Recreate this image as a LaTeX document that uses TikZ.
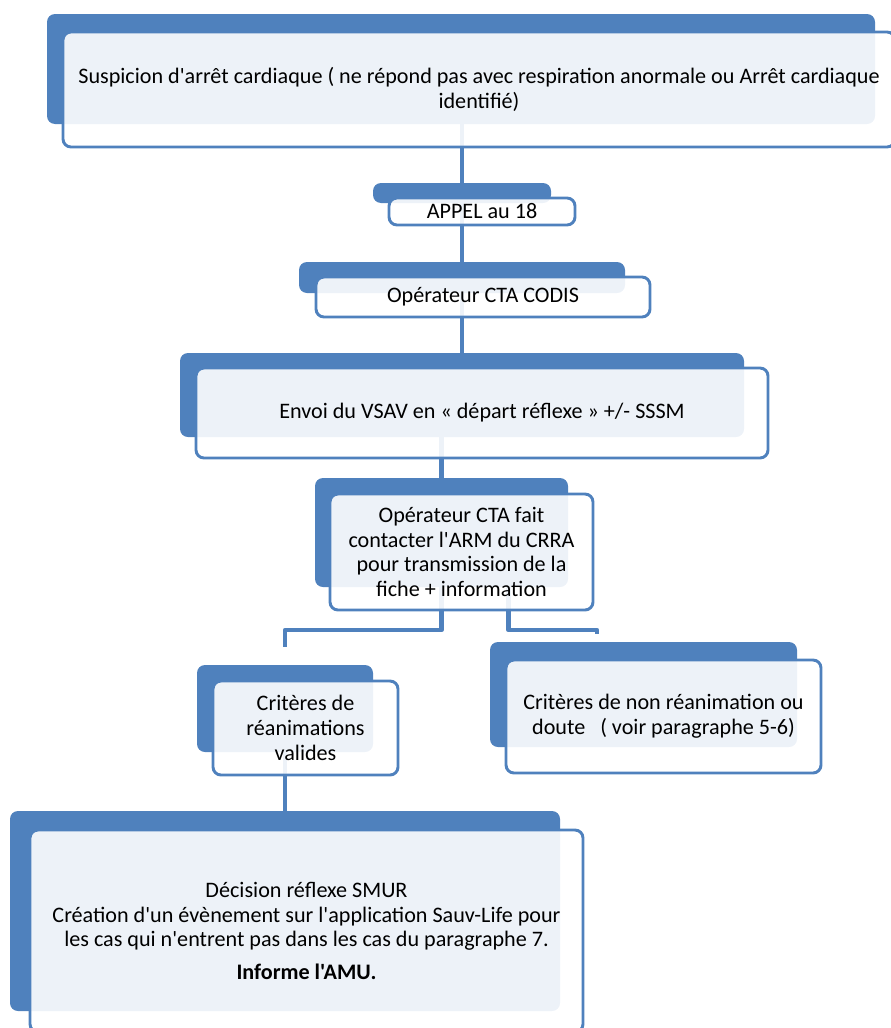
\documentclass[tikz,border=0pt]{standalone}
\usepackage{fontspec}
\setmainfont{Carlito}[Ligatures=TeXOff]
\usepackage{tikz}
\usetikzlibrary{positioning,backgrounds}
\definecolor{ofblue}{HTML}{4F81BD}
\tikzset{
    x=0.75pt,
    y=-0.75pt,
    shade/.style = {
        fill=ofblue,
        shape=rectangle,
        rounded corners=6pt,
        inner sep=0pt
    },
    block/.style = {
        draw=ofblue,
        fill=white,
        fill opacity=0.9,
        text opacity=1,
        shape=rectangle,
        rounded corners=6pt,
        line width=2.2pt,
        inner sep=0pt,
        align=center,
        font=\fontsize{16.6}{18.6}\selectfont
    },
    link/.style = {
        draw=ofblue,
        line width=3.4pt,
        line join=round
    },
}

\begin{document}
\begin{tikzpicture}
    \useasboundingbox (0,0) rectangle (890,1028);

    % dark boxes behind
    \node[shade, minimum width=621pt, minimum height=82.5pt] (susbk) at (461,69) {};
    \node[shade, minimum width=133.5pt, minimum height=15pt] (appelbk) at (462,193) {};
    \node[shade, minimum width=244.5pt, minimum height=23.25pt] (codisbk) at (462,277.5) {};
    \node[shade, minimum width=423pt, minimum height=63pt] (vsavbk) at (462,395) {};
    \node[shade, minimum width=189.75pt, minimum height=81.75pt] (ctabk) at (441.5,532.5) {};
    \node[shade, minimum width=132pt, minimum height=65.25pt] (reabk) at (285,708.5) {};
    \node[shade, minimum width=230.25pt, minimum height=78.75pt] (nonreabk) at (643.5,694.5) {};
    \node[shade, minimum width=412.5pt, minimum height=150pt] (smurbk) at (285,911) {};

    % boxes with text
    \node[block, minimum width=624pt, minimum height=86.25pt] (sus) at (479,89.5)
        {Suspicion d'arrêt cardiaque ( ne répond pas avec respiration anormale ou Arrêt cardiaque\\identifié)};
    \node[block, minimum width=139.5pt, minimum height=20.25pt] (appel) at (482,211.5) {APPEL au 18};
    \node[block, minimum width=250.5pt, minimum height=30pt] (codis) at (483,297) {Opérateur CTA CODIS};
    \node[block, minimum width=429pt, minimum height=67.5pt] (vsav) at (482,413)
        {Envoi du VSAV en « départ réflexe » +/- SSSM};
    \node[block, minimum width=197.25pt, minimum height=87pt] (cta) at (461.5,552)
        {Opérateur CTA fait\\contacter l'ARM du CRRA\\pour transmission de la\\fiche + information};
    \node[block, minimum width=138.75pt, minimum height=70.5pt] (rea) at (305.5,728)
        {Critères de\\réanimations\\valides};
    \node[block, minimum width=236.25pt, minimum height=84.75pt] (nonrea) at (663.5,716.5)
        {Critères de non réanimation ou\\doute\ \ \ ( voir paragraphe 5-6)};
    \node[block, minimum width=414.75pt, minimum height=151.5pt] (smur) at (306.5,931)
        {Décision réflexe SMUR\\Création d'un évènement sur l'application Sauv-Life pour\\les cas qui n'entrent pas dans les cas du paragraphe 7.\\[6pt]\textbf{Informe l'AMU.}};

    \coordinate (jl) at (285,630);
    \coordinate (jr) at (597,630);

    %connect
    \begin{scope}[on background layer]
        \path[link] (appelbk.north) -- (appelbk.north |- susbk.south);
        \path[link] (codisbk.north) -- (codisbk.north |- appelbk.south);
        \path[link] (vsavbk.north) -- (vsavbk.north |- codisbk.south);
        \path[link] (ctabk.north) -- (ctabk.north |- vsavbk.south);
        \path[link] (ctabk.south) |- (jl) -- ++(0,17);
        \path[link] ([xshift=50.25pt]ctabk.south) |- (jr) -- ++(0,4);
        \path[link] (smurbk.north) -- (smurbk.north |- reabk.south);
    \end{scope}

\end{tikzpicture}
\end{document}
